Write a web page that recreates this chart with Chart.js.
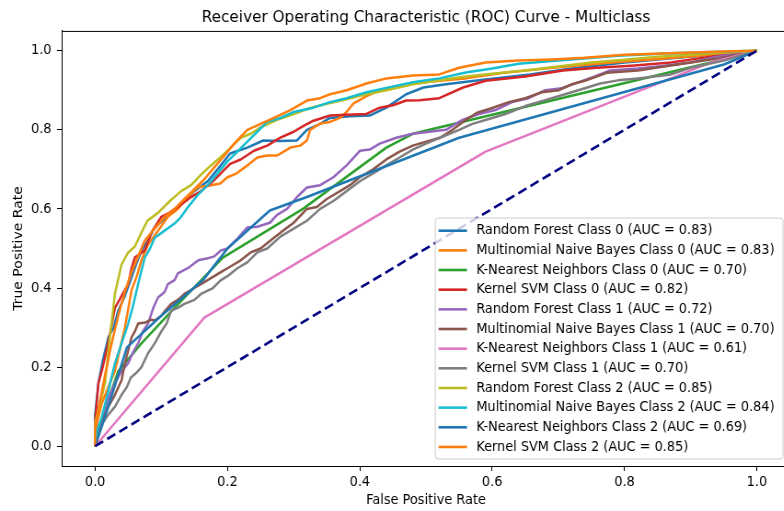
<!DOCTYPE html>
<html>
<head>
<meta charset="utf-8">
<title>ROC - Multiclass</title>
<script src="https://cdn.jsdelivr.net/npm/chart.js@4.4.0/dist/chart.umd.min.js"></script>
<style>
  html, body { margin: 0; padding: 0; background: #fff; }
  #wrap { width: 784px; height: 511px; overflow: hidden; position: relative; }
  /* the figure is laid out a bit wider and then squeezed back horizontally */
  #squeeze { width: 862px; height: 511px; transform: scaleX(0.92); transform-origin: 0 0; }
  canvas { display: block; }
</style>
</head>
<body>
<div id="wrap"><div id="squeeze"><canvas id="roc" width="862" height="511"></canvas></div></div>
<script>
// model names / classes, legend is built from these
const models = ['Random Forest', 'Multinomial Naive Bayes', 'K-Nearest Neighbors', 'Kernel SVM'];
const classes = [0, 1, 2];
const aucScores = [0.83, 0.83, 0.70, 0.82, 0.72, 0.70, 0.61, 0.70, 0.85, 0.84, 0.69, 0.85];
const tickValues = [0, 0.2, 0.4, 0.6, 0.8, 1.0];

// [fpr, tpr] points for each curve
const rf0 = [[0,0],[0,0.08],[0.005,0.16],[0.012,0.22],[0.02,0.275],[0.028,0.3],[0.035,0.343],[0.045,0.38],[0.055,0.427],[0.062,0.46],[0.07,0.495],[0.08,0.52],[0.09,0.553],[0.105,0.575],[0.12,0.596],[0.135,0.62],[0.15,0.645],[0.17,0.67],[0.185,0.7],[0.204,0.74],[0.23,0.755],[0.254,0.773],[0.28,0.772],[0.305,0.773],[0.32,0.8],[0.34,0.815],[0.355,0.83],[0.385,0.834],[0.415,0.836],[0.44,0.856],[0.47,0.89],[0.496,0.907],[0.53,0.915],[0.58,0.925],[0.657,0.94],[0.72,0.955],[0.8,0.97],[0.88,0.982],[0.95,0.992],[1,1]];
const mnb0 = [[0,0],[0.003,0.06],[0.01,0.108],[0.02,0.15],[0.03,0.19],[0.038,0.25],[0.045,0.3],[0.055,0.394],[0.063,0.43],[0.07,0.47],[0.08,0.51],[0.095,0.545],[0.11,0.58],[0.125,0.6],[0.14,0.63],[0.155,0.655],[0.175,0.66],[0.189,0.664],[0.2,0.68],[0.214,0.69],[0.23,0.71],[0.245,0.73],[0.26,0.735],[0.275,0.735],[0.285,0.745],[0.295,0.755],[0.31,0.76],[0.32,0.773],[0.325,0.8],[0.34,0.816],[0.355,0.82],[0.37,0.83],[0.38,0.845],[0.39,0.866],[0.41,0.885],[0.43,0.9],[0.455,0.91],[0.48,0.917],[0.52,0.924],[0.56,0.93],[0.62,0.945],[0.7,0.958],[0.78,0.97],[0.86,0.98],[0.93,0.99],[1,1]];
const knn0 = [[0,0],[0.01,0.07],[0.035,0.19],[0.07,0.26],[0.12,0.35],[0.193,0.477],[0.314,0.6],[0.44,0.755],[0.48,0.79],[0.93,0.97],[1,1]];
const svm0 = [[0,0],[0,0.06],[0.005,0.16],[0.01,0.19],[0.015,0.225],[0.022,0.28],[0.03,0.35],[0.04,0.38],[0.05,0.41],[0.055,0.45],[0.06,0.477],[0.075,0.495],[0.085,0.54],[0.1,0.58],[0.112,0.59],[0.125,0.605],[0.145,0.63],[0.16,0.645],[0.178,0.67],[0.19,0.69],[0.204,0.714],[0.22,0.725],[0.24,0.747],[0.26,0.76],[0.28,0.78],[0.3,0.795],[0.315,0.81],[0.33,0.823],[0.355,0.836],[0.38,0.838],[0.41,0.84],[0.43,0.856],[0.45,0.862],[0.47,0.874],[0.49,0.875],[0.52,0.88],[0.556,0.907],[0.59,0.924],[0.65,0.935],[0.707,0.95],[0.758,0.957],[0.81,0.962],[0.87,0.97],[0.93,0.985],[1,1]];
const rf1 = [[0,0],[0.005,0.03],[0.012,0.08],[0.02,0.12],[0.03,0.16],[0.04,0.19],[0.05,0.21],[0.058,0.24],[0.065,0.26],[0.072,0.29],[0.08,0.31],[0.088,0.35],[0.095,0.376],[0.105,0.39],[0.11,0.41],[0.12,0.42],[0.125,0.437],[0.14,0.45],[0.156,0.47],[0.17,0.475],[0.18,0.48],[0.19,0.495],[0.2,0.5],[0.215,0.525],[0.23,0.553],[0.245,0.555],[0.264,0.565],[0.275,0.585],[0.29,0.6],[0.305,0.63],[0.32,0.654],[0.34,0.66],[0.36,0.68],[0.38,0.71],[0.4,0.747],[0.415,0.75],[0.43,0.765],[0.455,0.78],[0.48,0.79],[0.505,0.795],[0.53,0.8],[0.555,0.825],[0.58,0.84],[0.605,0.85],[0.63,0.87],[0.655,0.88],[0.68,0.9],[0.705,0.905],[0.73,0.92],[0.755,0.935],[0.778,0.95],[0.82,0.955],[0.85,0.96],[0.9,0.97],[0.94,0.985],[1,1]];
const mnb1 = [[0,0],[0.005,0.03],[0.012,0.07],[0.02,0.1],[0.03,0.13],[0.04,0.167],[0.045,0.21],[0.05,0.242],[0.055,0.275],[0.06,0.29],[0.065,0.31],[0.076,0.313],[0.085,0.32],[0.09,0.318],[0.1,0.33],[0.106,0.343],[0.115,0.36],[0.125,0.37],[0.135,0.385],[0.15,0.4],[0.16,0.41],[0.175,0.425],[0.19,0.44],[0.205,0.455],[0.22,0.47],[0.235,0.49],[0.25,0.5],[0.265,0.52],[0.28,0.54],[0.3,0.565],[0.32,0.6],[0.335,0.605],[0.35,0.625],[0.37,0.645],[0.385,0.66],[0.4,0.68],[0.42,0.7],[0.44,0.725],[0.46,0.745],[0.48,0.76],[0.5,0.77],[0.521,0.78],[0.54,0.8],[0.56,0.825],[0.577,0.843],[0.6,0.855],[0.625,0.87],[0.65,0.88],[0.675,0.895],[0.7,0.9],[0.72,0.915],[0.74,0.924],[0.773,0.944],[0.82,0.95],[0.88,0.965],[0.94,0.98],[1,1]];
const knn1 = [[0,0],[0.165,0.325],[0.59,0.745],[0.93,0.97],[1,1]];
const svm1 = [[0,0],[0.005,0.03],[0.012,0.06],[0.02,0.08],[0.03,0.1],[0.04,0.13],[0.048,0.15],[0.054,0.174],[0.062,0.185],[0.07,0.2],[0.08,0.235],[0.09,0.26],[0.1,0.29],[0.108,0.31],[0.115,0.343],[0.125,0.35],[0.135,0.36],[0.15,0.37],[0.16,0.385],[0.178,0.4],[0.19,0.42],[0.2,0.43],[0.215,0.45],[0.23,0.465],[0.245,0.49],[0.26,0.5],[0.28,0.53],[0.3,0.55],[0.32,0.57],[0.34,0.6],[0.36,0.62],[0.38,0.645],[0.4,0.67],[0.42,0.69],[0.44,0.71],[0.46,0.73],[0.48,0.75],[0.5,0.765],[0.521,0.78],[0.55,0.8],[0.57,0.815],[0.6,0.83],[0.62,0.84],[0.65,0.86],[0.68,0.875],[0.71,0.89],[0.74,0.905],[0.763,0.917],[0.79,0.925],[0.82,0.93],[0.87,0.94],[0.9,0.957],[0.95,0.975],[1,1]];
const rf2 = [[0,0],[0,0.06],[0.008,0.11],[0.015,0.16],[0.022,0.27],[0.03,0.386],[0.04,0.46],[0.05,0.49],[0.06,0.505],[0.07,0.54],[0.079,0.57],[0.095,0.59],[0.113,0.62],[0.13,0.645],[0.145,0.66],[0.159,0.685],[0.175,0.71],[0.189,0.73],[0.205,0.755],[0.22,0.78],[0.235,0.79],[0.25,0.806],[0.275,0.825],[0.3,0.84],[0.325,0.855],[0.35,0.866],[0.375,0.875],[0.4,0.886],[0.44,0.9],[0.48,0.915],[0.52,0.925],[0.56,0.935],[0.6,0.942],[0.65,0.95],[0.7,0.96],[0.75,0.97],[0.8,0.977],[0.85,0.985],[0.9,0.99],[0.95,0.995],[1,1]];
const mnb2 = [[0,0],[0.003,0.04],[0.01,0.073],[0.02,0.14],[0.03,0.21],[0.04,0.26],[0.05,0.31],[0.058,0.36],[0.065,0.41],[0.075,0.477],[0.083,0.5],[0.09,0.527],[0.105,0.545],[0.12,0.563],[0.13,0.58],[0.14,0.604],[0.155,0.635],[0.17,0.66],[0.185,0.69],[0.2,0.72],[0.215,0.745],[0.23,0.77],[0.245,0.795],[0.26,0.82],[0.28,0.83],[0.3,0.845],[0.33,0.856],[0.355,0.87],[0.38,0.88],[0.41,0.895],[0.44,0.906],[0.48,0.92],[0.52,0.93],[0.56,0.945],[0.6,0.955],[0.64,0.967],[0.7,0.975],[0.79,0.987],[0.86,0.993],[0.93,0.997],[1,1]];
const knn2 = [[0,0],[0.02,0.1],[0.048,0.25],[0.1,0.33],[0.163,0.42],[0.2,0.5],[0.264,0.596],[0.32,0.63],[0.55,0.78],[0.95,0.965],[1,1]];
const svm2 = [[0,0],[0,0.05],[0.008,0.12],[0.015,0.18],[0.025,0.26],[0.035,0.33],[0.045,0.39],[0.055,0.44],[0.065,0.48],[0.075,0.52],[0.09,0.55],[0.105,0.58],[0.12,0.6],[0.135,0.625],[0.15,0.65],[0.165,0.675],[0.18,0.705],[0.193,0.73],[0.21,0.765],[0.23,0.8],[0.25,0.815],[0.27,0.83],[0.295,0.85],[0.32,0.874],[0.34,0.88],[0.355,0.89],[0.38,0.9],[0.41,0.917],[0.44,0.93],[0.48,0.937],[0.52,0.94],[0.55,0.957],[0.59,0.97],[0.64,0.975],[0.69,0.978],[0.74,0.982],[0.8,0.99],[0.89,0.995],[0.95,0.998],[1,1]];
// random guess line
const chance = [[0,0],[1,1]];

// same order the legend lists them: class by class, model by model
const curves = [rf0, mnb0, knn0, svm0, rf1, mnb1, knn1, svm1, rf2, mnb2, knn2, svm2];

// matplotlib default color cycle (wraps after 10)
const palette = ['#1f77b4', '#ff7f0e', '#2ca02c', '#d62728', '#9467bd', '#8c564b', '#e377c2', '#7f7f7f', '#bcbd22', '#17becf'];
const FONT = 'DejaVu Sans';

const labels = [];
classes.forEach(c => models.forEach(m => labels.push(m + ' Class ' + c)));

const toXY = pts => pts.map(p => ({ x: p[0], y: p[1] }));

const datasets = curves.map((pts, i) => ({
    label: labels[i] + ' (AUC = ' + aucScores[i].toFixed(2) + ')',
    data: toXY(pts),
    borderColor: palette[i % palette.length],
    borderWidth: 2.5,
    borderJoinStyle: 'round',
    pointRadius: 0,
    showLine: true,
    fill: false,
    inLegend: true,
    order: 50 - i   // later curves drawn on top
}));

datasets.push({
    label: 'chance',
    data: toXY(chance),
    borderColor: '#000080',
    borderWidth: 2.6,
    borderDash: [10, 5],
    pointRadius: 0,
    showLine: true,
    fill: false,
    inLegend: false,
    order: 0
});

// top + right spines, matplotlib style box
const boxPlugin = {
    id: 'boxPlugin',
    afterDraw(chart) {
        const { ctx, chartArea: a } = chart;
        ctx.save();
        ctx.strokeStyle = '#000';
        ctx.lineWidth = 1;
        ctx.beginPath();
        ctx.moveTo(a.left, a.top + 0.5);
        ctx.lineTo(a.right, a.top + 0.5);
        ctx.lineTo(a.right, a.bottom);
        ctx.stroke();
        ctx.restore();
    }
};

// legend box in the lower right corner of the axes
const legendBox = {
    id: 'legendBox',
    afterDatasetsDraw(chart) {
        const { ctx, chartArea: a } = chart;
        const items = chart.data.datasets.filter(d => d.inLegend);
        const right = a.right - 7.6;
        const bottom = a.bottom - 7;
        const w = 378, h = 241, rowH = 19.66;
        const left = right - w, top = bottom - h;
        ctx.save();
        ctx.beginPath();
        ctx.roundRect(left, top, w, h, 3);
        ctx.fillStyle = 'rgba(255,255,255,0.8)';
        ctx.fill();
        ctx.strokeStyle = '#cccccc';
        ctx.lineWidth = 1;
        ctx.stroke();
        ctx.font = '14px "' + FONT + '"';
        ctx.textBaseline = 'middle';
        ctx.textAlign = 'left';
        items.forEach((d, i) => {
            const y = top + 12.7 + i * rowH;
            ctx.beginPath();
            ctx.strokeStyle = d.borderColor;
            ctx.lineWidth = 2.6;
            ctx.moveTo(left + 3.6, y);
            ctx.lineTo(left + 34.5, y);
            ctx.stroke();
            ctx.fillStyle = '#000';
            ctx.fillText(d.label, left + 44.6, y);
        });
        ctx.restore();
    }
};

const setTicks = scale => { scale.ticks = tickValues.map(v => ({ value: v })); };

new Chart(document.getElementById('roc'), {
    type: 'scatter',
    data: { datasets: datasets },
    options: {
        responsive: false,
        animation: false,
        layout: { padding: { top: 0, left: 0, right: 3.3, bottom: 0 } },
        plugins: {
            legend: { display: false },
            tooltip: { enabled: false },
            title: {
                display: true,
                fullSize: false,
                text: 'Receiver Operating Characteristic (ROC) Curve - Multiclass',
                color: '#000',
                font: { family: FONT, size: 16.6, weight: 'normal' },
                padding: { top: 8, bottom: 3 }
            }
        },
        scales: {
            x: {
                type: 'linear',
                min: -0.05,
                max: 1.05,
                afterBuildTicks: setTicks,
                afterFit: s => { s.height = 45; },
                grid: { drawOnChartArea: false, color: '#000', tickLength: 5 },
                border: { display: true, color: '#000', width: 1 },
                ticks: {
                    color: '#000',
                    padding: 3,
                    font: { family: FONT, size: 14 },
                    callback: v => v.toFixed(1)
                },
                title: {
                    display: true,
                    text: 'False Positive Rate',
                    color: '#000',
                    font: { family: FONT, size: 14 },
                    padding: { top: 0, bottom: 2.6 }
                }
            },
            y: {
                type: 'linear',
                min: -0.05,
                max: 1.05,
                afterBuildTicks: setTicks,
                afterFit: s => { s.width = 67.4; },
                grid: { drawOnChartArea: false, color: '#000', tickLength: 5.4 },
                border: { display: true, color: '#000', width: 1 },
                ticks: {
                    color: '#000',
                    padding: 6,
                    font: { family: FONT, size: 14 },
                    callback: v => v.toFixed(1)
                },
                title: {
                    display: true,
                    text: 'True Positive Rate',
                    color: '#000',
                    font: { family: FONT, size: 14 },
                    padding: { top: 12.25, bottom: 0 }
                }
            }
        }
    },
    plugins: [boxPlugin, legendBox]
});
</script>
</body>
</html>
